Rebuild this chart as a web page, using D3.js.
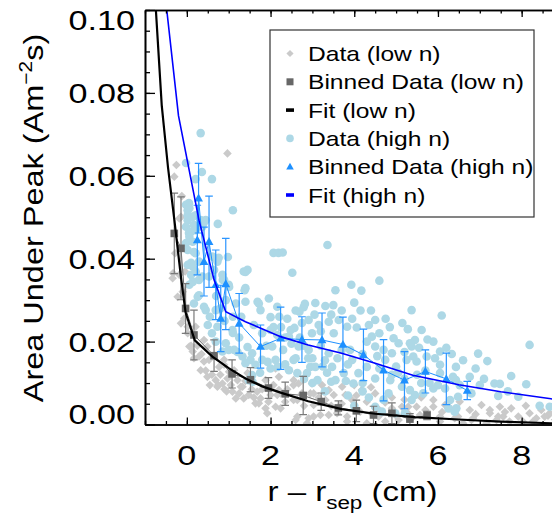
<!DOCTYPE html>
<html><head><meta charset="utf-8">
<script src="https://cdn.jsdelivr.net/npm/d3@7"></script>
<style>body{margin:0;background:#fff}svg{display:block}</style>
</head><body><svg id="c" width="552" height="516"></svg>
<script>
// ---------------- data ----------------
const lowData = [
[-0.25,0.0626],[-0.30,0.0598],[-0.12,0.0551],[-0.18,0.0497],[-0.14,0.0501],[-0.28,0.0413],[-0.33,0.0365],[-0.04,0.0369],[-0.34,0.0353],[-0.18,0.0361],[-0.10,0.0320],[-0.22,0.0308],[-0.06,0.0256],[0.02,0.0236],[0.97,0.0654],
[-0.14,0.0244],[0.02,0.0220],[0.06,0.0188],[0.14,0.0176],[0.29,0.0164],[0.41,0.0152],[0.33,0.0131],[0.49,0.0115],[0.69,0.0107],[0.85,0.0099],[0.73,0.0091],[1.09,0.0079],[1.17,0.0063],[0.97,0.0111],[1.33,0.0091],[1.48,0.0071],[1.64,0.0051],[1.76,0.0063],[2.00,0.0071],[2.12,0.0043],[1.88,0.0039],[2.20,0.0083],[0.41,0.0204],[0.21,0.0236],[0.49,0.0188],[0.53,0.0156],[0.89,0.0144],[1.01,0.0127],
[0.10,0.0190],[0.17,0.0160],[0.75,0.0095],[0.77,0.0139],[0.95,0.0080],[1.29,0.0091],[1.36,0.0063],[1.68,0.0079],[1.72,0.0051],[1.92,0.0027],[2.16,0.0071],[2.24,0.0039],[2.55,0.0095],[2.64,0.0059],[2.64,0.0019],[2.95,0.0075],[3.03,0.0047],[3.23,0.0095],[3.31,0.0059],[3.51,0.0071],[3.59,0.0027],[3.03,0.0019],
[2.20,0.0115],[2.55,0.0107],[2.67,0.0099],[2.24,0.0075],[2.55,0.0059],[2.99,0.0099],[3.03,0.0075],[3.39,0.0083],[3.71,0.0091],[3.79,0.0071],[3.95,0.0059],[4.18,0.0083],[4.30,0.0055],[4.14,0.0031],[3.83,0.0019],[3.39,0.0023],[2.91,0.0015],[2.60,0.0011],[4.74,0.0053],[4.90,0.0039],[5.14,0.0043],[5.29,0.0043],[4.58,0.0019],[5.06,0.0011],[5.37,0.0015],[2.12,0.0135],
[6.76,0.0035],[7.04,0.0047],[7.24,0.0027],[7.48,0.0043],[7.75,0.0039],[7.92,0.0019],[8.19,0.0027],[8.47,0.0035],[8.63,0.0021],[6.52,0.0055],[6.29,0.0039],[5.89,0.0043],[5.49,0.0043],[5.57,0.0023],[6.05,0.0019],[6.40,0.0015],[6.80,0.0011],[7.40,0.0011],[8.03,0.0007],
[5.89,0.0059],[6.17,0.0047],[7.24,0.0035],[7.56,0.0019],[6.48,0.0019],[8.35,0.0015],[8.67,0.0027],
[2.87,0.0003],[3.19,0.0023],[3.83,0.0007],[4.30,0.0003],[4.46,0.0023],[4.74,0.0007],[5.02,0.0019],[6.05,0.0007],[6.60,0.0003],[6.84,0.0015],[7.16,0.0003],[7.44,0.0019],[7.71,0.0007],[8.27,0.0007],[8.55,0.0019],
[0.89,0.0156],[1.13,0.0131],[1.45,0.0124],[1.21,0.0107],[1.88,0.0107],[2.07,0.0095],
[4.50,0.0075],[4.90,0.0065],[5.20,0.0060],[5.60,0.0065],[4.00,0.0095],[4.40,0.0090],
[0.25,0.0190],[0.35,0.0170],[0.45,0.0130],[0.60,0.0120],[0.55,0.0095],[0.80,0.0120],[0.90,0.0085],[1.05,0.0095],[1.25,0.0075],[1.40,0.0105],[1.55,0.0085],[1.60,0.0065],[1.80,0.0085],[1.95,0.0055],[2.40,0.0085],[2.35,0.0055],[2.75,0.0075],[2.80,0.0045],[3.15,0.0065],[3.45,0.0045],[3.70,0.0050],[4.05,0.0070],[4.60,0.0035],[5.30,0.0025],[5.70,0.0035],[6.10,0.0030],[6.90,0.0025],[7.60,0.0030],[8.10,0.0045],[8.80,0.0012]
];

const highData = [
[0.33,0.0703],[-0.02,0.0631],[0.36,0.0609],[0.60,0.0592],[0.21,0.0592],[0.05,0.0534],[1.10,0.0517],[0.02,0.0517],[0.02,0.0493],[-0.02,0.0477],[0.05,0.0462],[0.40,0.0486],[0.74,0.0484],[0.17,0.0416],[0.10,0.0390],[0.98,0.0404],[0.76,0.0402],[0.10,0.0361],[0.29,0.0349],[1.40,0.0368],[0.86,0.0349],[1.00,0.0337],[2.07,0.0414],[2.19,0.0414],[0.17,0.0481],[-0.02,0.0438],[0.14,0.0344],[0.26,0.0308],[0.45,0.0276],[0.69,0.0276],[1.45,0.0373],[1.38,0.0324],[2.52,0.0366],[1.69,0.0296],[2.00,0.0259],[2.07,0.0235],[2.79,0.0283],[3.07,0.0293],[3.31,0.0286],[3.50,0.0288],[2.57,0.0233],[3.36,0.0433],[3.55,0.0324],[1.00,0.0180],[1.21,0.0175],[1.10,0.0221],[1.45,0.0187],[1.52,0.0156],[1.93,0.0151],[2.17,0.0139],[2.55,0.0156],[2.95,0.0139],[2.64,0.0124],[3.12,0.0107],[3.45,0.0103],[1.57,0.0103],
[0.06,0.0337],[0.29,0.0312],[0.17,0.0292],[0.41,0.0284],[0.93,0.0300],[1.17,0.0292],[1.40,0.0296],[1.72,0.0292],[1.76,0.0276],[1.96,0.0304],[2.16,0.0284],[0.73,0.0236],[1.09,0.0228],[0.93,0.0196],[0.69,0.0200],[0.85,0.0176],[1.13,0.0180],[1.33,0.0164],[1.56,0.0172],[1.40,0.0148],[1.64,0.0144],[1.80,0.0156],[2.00,0.0228],[2.16,0.0216],[2.04,0.0188],[2.12,0.0156],[1.48,0.0107],[1.56,0.0119],
[2.29,0.0415],[3.93,0.0337],[4.17,0.0323],[4.60,0.0347],[4.00,0.0294],[2.82,0.0291],[2.69,0.0272],[2.21,0.0260],[4.50,0.0252],[5.37,0.0276],[2.91,0.0252],[3.15,0.0240],[3.39,0.0248],[3.63,0.0252],[3.83,0.0236],[4.06,0.0234],[3.51,0.0220],[2.99,0.0220],[2.48,0.0228],[2.44,0.0212],[2.67,0.0188],[2.91,0.0180],[3.39,0.0172],[3.90,0.0180],[4.42,0.0212],[4.50,0.0188],[4.94,0.0208],[5.06,0.0196],[5.37,0.0188],[3.95,0.0156],[3.47,0.0139],[3.07,0.0139],[2.87,0.0124],[2.44,0.0131],[3.75,0.0124],[4.10,0.0124],[4.30,0.0139],[4.74,0.0156],[4.90,0.0172],[5.25,0.0156],[5.45,0.0204],[3.55,0.0107],[3.98,0.0099],[4.50,0.0111],[4.86,0.0107],[5.14,0.0091],[4.82,0.0075],[5.33,0.0083],[5.37,0.0059],[4.50,0.0043],[4.98,0.0027],[5.21,0.0027],[4.66,0.0031],
[6.09,0.0263],[8.19,0.0192],[6.96,0.0171],[7.18,0.0153],[7.75,0.0117],[7.35,0.0099],[7.48,0.0098],[8.11,0.0097],[7.67,0.0080],[8.43,0.0045],[5.28,0.0230],[5.61,0.0228],[5.89,0.0200],[5.33,0.0196],[6.33,0.0170],[5.73,0.0164],[6.05,0.0144],[6.43,0.0139],[6.05,0.0124],[6.76,0.0115],[6.43,0.0107],[6.17,0.0087],[6.29,0.0059],[6.44,0.0039],[6.05,0.0176],[5.93,0.0160],[5.41,0.0164],[5.49,0.0152],[6.36,0.0115],[6.52,0.0095],[5.89,0.0087],[5.65,0.0075],[5.45,0.0071],[6.48,0.0067],[6.25,0.0039],[6.40,0.0031],[8.67,0.0043],[7.92,0.0067],[7.44,0.0069],
[-0.02,0.0530],[0.06,0.0522],[0.02,0.0505],[0.14,0.0501],[0.21,0.0505],[0.10,0.0465],[0.21,0.0469],[0.33,0.0493],[0.45,0.0493],[0.37,0.0477],[0.06,0.0453],[0.14,0.0441],[0.02,0.0421],[0.21,0.0413],[0.29,0.0393],[0.61,0.0405],[0.73,0.0393],[0.02,0.0385],[0.14,0.0381],[0.21,0.0369],[0.37,0.0357],[0.53,0.0357],[0.65,0.0373],[0.85,0.0361],[0.89,0.0349],[1.01,0.0332],[1.40,0.0329],[1.36,0.0369],
[0.55,0.0260],[0.60,0.0220],[0.50,0.0240],[0.80,0.0280],[0.70,0.0310],[0.90,0.0250],[1.10,0.0260],[1.25,0.0210],[1.30,0.0260],[1.60,0.0240],[1.80,0.0220],[1.90,0.0190],[2.30,0.0180],[2.35,0.0210],[2.60,0.0160],[2.70,0.0210],[2.80,0.0190],[3.00,0.0160],[3.20,0.0190],[3.25,0.0140],[3.60,0.0160],[3.70,0.0180],[4.20,0.0170],[4.30,0.0200],[4.35,0.0240],[4.60,0.0220],[4.70,0.0180],[4.90,0.0120],[5.00,0.0140],[5.20,0.0110],[5.50,0.0120],[5.70,0.0130],[5.80,0.0100],[6.00,0.0095],[3.30,0.0080],[3.00,0.0100],[3.85,0.0070],[4.20,0.0080],[4.70,0.0060],[4.00,0.0045],
[2.25,0.0235],[2.40,0.0255],[2.60,0.0275],[2.75,0.0245],[3.05,0.0265],[3.20,0.0225],[3.45,0.0265],[3.70,0.0275],[3.95,0.0255],[4.15,0.0275],[4.40,0.0275],[4.75,0.0255],[4.85,0.0235],[5.15,0.0245],[5.20,0.0175],[5.55,0.0185],[5.75,0.0205],[6.20,0.0185],[6.60,0.0155],[6.90,0.0135],[7.10,0.0110],[2.50,0.0195],[2.90,0.0160],[3.30,0.0155],[3.85,0.0145],[4.55,0.0165],[4.60,0.0135],[5.05,0.0125],[1.75,0.0125],[2.00,0.0135],[2.35,0.0145],[2.80,0.0110],[3.35,0.0125],[3.80,0.0105],[4.20,0.0100],[4.35,0.0065],[5.60,0.0100],[6.80,0.0075],[7.00,0.0095]
];

const lowBinX   = [-0.30,-0.14,-0.03,0.17,0.65,1.08,1.52,1.95,2.35,2.78,3.21,3.62,4.05,4.46,4.90,5.33,5.74];
const lowBinY   = [0.0461,0.0425,0.0280,0.0216,0.0166,0.0122,0.0108,0.0088,0.0074,0.0070,0.0055,0.0040,0.0033,0.0023,0.0027,0.0013,0.0022];
const lowBinErr = [0.0097,0.0124,0.0060,0.0060,0.0038,0.0034,0.0029,0.0025,0.0028,0.0046,0.0021,0.0017,0.0026,0.0021,0.0025,0.0013,0.0010];

const highBinX   = [0.25,0.28,0.41,0.53,0.69,0.81,0.93,1.25,1.76,2.24,2.75,3.23,3.73,4.22,4.70,5.20,5.70,6.20,6.70];
const highBinY   = [0.0445,0.0546,0.0393,0.0441,0.0337,0.0256,0.0339,0.0244,0.0188,0.0208,0.0205,0.0204,0.0193,0.0168,0.0131,0.0107,0.0128,0.0110,0.0082];
const highBinErr = [0.0084,0.0084,0.0083,0.0110,0.0084,0.0080,0.0110,0.0072,0.0052,0.0075,0.0055,0.0065,0.0066,0.0062,0.0074,0.0069,0.0052,0.0062,0.0022];

const lowFit = [[-0.80,0.110],[-0.74,0.100],[-0.60,0.077],[-0.45,0.062],[-0.30,0.0495],[-0.14,0.0355],[-0.03,0.0270],[0.19,0.0203],[0.61,0.0164],[1.00,0.0136],[1.40,0.0111],[1.80,0.0092],[2.24,0.0077],[2.90,0.0056],[3.70,0.0037],[4.50,0.0026],[5.45,0.0018],[6.50,0.0012],[7.50,0.0007],[8.70,0.0003],[9.00,0.0002]];
const highFit = [[-0.55,0.107],[-0.48,0.100],[-0.20,0.0745],[0.29,0.0493],[0.65,0.0349],[0.93,0.0272],[1.40,0.0248],[2.24,0.0212],[2.90,0.0192],[3.70,0.0172],[4.50,0.0148],[5.40,0.0119],[6.50,0.0096],[7.50,0.0079],[8.70,0.0062],[9.00,0.0058]];

const xTickLabels = [0,2,4,6,8];
const yTickLabels = [0,0.02,0.04,0.06,0.08,0.10];
const legendItems = ["Data (low n)","Binned Data (low n)","Fit (low n)","Data (high n)","Binned Data (high n)","Fit (high n)"];

// ---------------- drawing ----------------
const svg = d3.select("#c");
const FONT = "'Liberation Sans', Arial, Helvetica, sans-serif";
const x = d3.scaleLinear().domain([-1,9]).range([145,563.5]);
const y = d3.scaleLinear().domain([0,0.1]).range([424.5,10]);
const L=145, R=563.5, T=10, B=424.5;

const COL = {dia:"#cacaca", sq:"#676767", sqErr:"#7a7a7a", circ:"#add8e6", tri:"#1e90ff", triErr:"#2b95ff", blk:"#000", blue:"#0000ff"};

svg.append("rect").attr("width",552).attr("height",516).attr("fill","#fff");
svg.append("defs").append("clipPath").attr("id","clip").append("rect")
  .attr("x",L).attr("y",T).attr("width",R-L).attr("height",B-T);
const plot = svg.append("g").attr("clip-path","url(#clip)");

const diamond = r => `M0,${-r}L${r},0L0,${r}L${-r},0Z`;
const tri = s => `M0,${-s*1.05}L${s},${s*0.75}L${-s},${s*0.75}Z`;

plot.append("g").selectAll("path").data(lowData).join("path")
  .attr("d",diamond(4.3)).attr("fill",COL.dia)
  .attr("transform",d=>`translate(${x(d[0])},${y(d[1])})`);
plot.append("g").selectAll("circle").data(highData).join("circle")
  .attr("cx",d=>x(d[0])).attr("cy",d=>y(d[1])).attr("r",4.3).attr("fill",COL.circ);

const lowBins = lowBinX.map((v,i)=>({x:v,y:lowBinY[i],e:lowBinErr[i]}));
const gl = plot.append("g");
const line = d3.line().x(d=>x(d.x)).y(d=>y(d.y));
gl.append("path").datum(lowBins).attr("d",line).attr("fill","none").attr("stroke",COL.sq).attr("stroke-width",1);
function errbars(g, data, col, cap){
  const e = g.append("g").attr("stroke",col).attr("stroke-width",1.2).attr("fill","none");
  e.selectAll("path").data(data).join("path").attr("d",d=>{
    const xx=x(d.x), y1=y(d.y+d.e), y2=y(d.y-d.e);
    return `M${xx},${y1}V${y2}M${xx-cap},${y1}H${xx+cap}M${xx-cap},${y2}H${xx+cap}`;
  });
}
errbars(gl, lowBins, COL.sqErr, 3.8);
gl.append("g").selectAll("rect").data(lowBins).join("rect")
  .attr("x",d=>x(d.x)-3.8).attr("y",d=>y(d.y)-3.8).attr("width",7.6).attr("height",7.6).attr("fill",COL.sq);

const highBins = highBinX.map((v,i)=>({x:v,y:highBinY[i],e:highBinErr[i]}));
const gh = plot.append("g");
gh.append("path").datum(highBins).attr("d",line).attr("fill","none").attr("stroke",COL.tri).attr("stroke-width",1);
errbars(gh, highBins, COL.triErr, 3.8);
gh.append("g").selectAll("path").data(highBins).join("path")
  .attr("d",tri(4.4)).attr("fill",COL.tri)
  .attr("transform",d=>`translate(${x(d.x)},${y(d.y)})`);

const fline = d3.line().x(d=>x(d[0])).y(d=>y(d[1]));
plot.append("path").datum(lowFit).attr("d",fline).attr("fill","none").attr("stroke",COL.blk).attr("stroke-width",2.2);
plot.append("path").datum(highFit).attr("d",fline).attr("fill","none").attr("stroke",COL.blue).attr("stroke-width",1.6);

function styleAxis(g){ g.select(".domain").attr("stroke","#000").attr("stroke-width",1.6); g.selectAll(".tick line").attr("stroke","#000").attr("stroke-width",1.3); g.selectAll(".tick text").remove(); }
const xMinor = d3.range(-1,9.01,0.5), xMajor = d3.range(0,9,2);
const yMinor = d3.range(0,0.1001,0.005), yMajor = d3.range(0,0.1001,0.02);
svg.append("g").attr("transform",`translate(0,${B})`).call(d3.axisTop(x).tickValues(xMinor).tickSize(3.5).tickSizeOuter(0)).call(styleAxis);
svg.append("g").attr("transform",`translate(0,${B})`).call(d3.axisTop(x).tickValues(xMajor).tickSize(7).tickSizeOuter(0)).call(styleAxis);
svg.append("g").attr("transform",`translate(0,${T})`).call(d3.axisBottom(x).tickValues(xMinor).tickSize(3.5).tickSizeOuter(0)).call(styleAxis);
svg.append("g").attr("transform",`translate(0,${T})`).call(d3.axisBottom(x).tickValues(xMajor).tickSize(7).tickSizeOuter(0)).call(styleAxis);
svg.append("g").attr("transform",`translate(${L},0)`).call(d3.axisRight(y).tickValues(yMinor).tickSize(5).tickSizeOuter(0)).call(styleAxis);
svg.append("g").attr("transform",`translate(${L},0)`).call(d3.axisRight(y).tickValues(yMajor).tickSize(10).tickSizeOuter(0)).call(styleAxis);

function stext(parts, tx, ty, size, sx, anchor, rot){
  const t = svg.append("text").attr("font-family",FONT).attr("font-size",size).attr("fill","#000")
    .attr("text-anchor",anchor||"start")
    .attr("transform",`translate(${tx},${ty})${rot?` rotate(${rot})`:""} scale(${sx},1)`);
  if(typeof parts==="string"){ t.text(parts); return t; }
  parts.forEach(p=>{ const s=t.append("tspan").text(p.t); if(p.size) s.attr("font-size",p.size); if(p.dy) s.attr("dy",p.dy); });
  return t;
}
xTickLabels.forEach(v=>stext(String(v), x(v), 465, 28, 1.22, "middle"));
const fmt = d3.format(".2f");
yTickLabels.forEach(v=>{
  const cy = Math.min(Math.max(y(v), T+10), B-10.5);
  stext(fmt(v), 135, cy+10, 28, 1.22, "end");
});
stext([{t:"r \u2013 r"},{t:"sep",size:19,dy:8},{t:" (cm)",size:28,dy:-8}], 352.5, 501, 28, 1.18, "middle");
stext([{t:"Area Under Peak (Am"},{t:"\u22122",size:18,dy:-11},{t:"s)",size:28,dy:11}], 43, 218, 28, 1.16, "middle", -90);

svg.append("rect").attr("x",270).attr("y",30).attr("width",264).attr("height",187)
  .attr("fill","#fff").attr("stroke","#333").attr("stroke-width",1.2);
const ly = i => 53.5 + i*28.3;
const lg = svg.append("g");
lg.append("path").attr("d",diamond(3.6)).attr("fill",COL.dia).attr("transform",`translate(290,${ly(0)})`);
lg.append("rect").attr("x",286.5).attr("y",ly(1)-3.5).attr("width",7).attr("height",7).attr("fill",COL.sq);
lg.append("rect").attr("x",286).attr("y",ly(2)-1.8).attr("width",8).attr("height",3.6).attr("fill",COL.blk);
lg.append("circle").attr("cx",290).attr("cy",ly(3)).attr("r",3.8).attr("fill",COL.circ);
lg.append("path").attr("d",tri(3.8)).attr("fill",COL.tri).attr("transform",`translate(290,${ly(4)})`);
lg.append("rect").attr("x",286).attr("y",ly(5)-1.8).attr("width",8).attr("height",3.6).attr("fill",COL.blue);
legendItems.forEach((s,i)=>stext(s, 308, ly(i)+7.5, 20.5, 1.2, "start"));
</script></body></html>
